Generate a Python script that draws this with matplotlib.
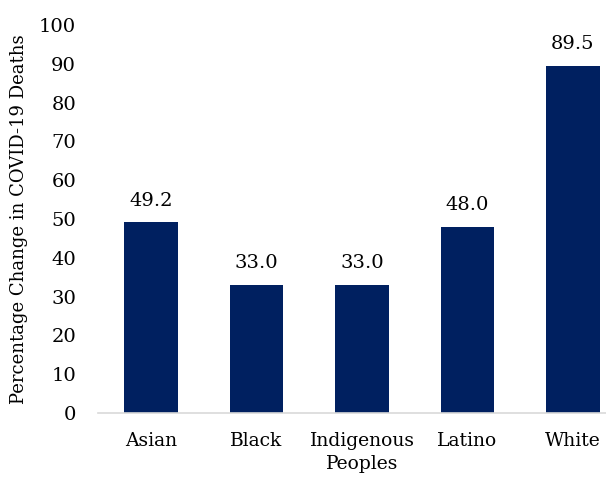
import matplotlib
matplotlib.use("Agg")
import matplotlib.pyplot as plt

categories = ["Asian", "Black", "Indigenous\nPeoples", "Latino", "White"]
values = [49.2, 33.0, 33.0, 48.0, 89.5]
yticks = [0, 10, 20, 30, 40, 50, 60, 70, 80, 90, 100]

plt.rcParams['font.family'] = ['DejaVu Serif']

fig = plt.figure(figsize=(6.06, 4.78), dpi=100)
ax = fig.add_axes([98.25/606, 65/478, 527.5/606, 388/478])
x = list(range(len(categories)))
bars = ax.bar(x, values, width=0.51, color="#002060")
for xi, v in zip(x, values):
    ax.annotate(f"{v:.1f}", (xi, v), xytext=(0, 9), textcoords="offset points",
                ha="center", va="bottom", fontsize=14, color="#000000")

ax.set_xlim(-0.5, 4.5)
ax.set_ylim(0, 100)
ax.set_yticks(yticks)
ax.set_yticklabels([str(t) for t in yticks], fontsize=14)
ax.set_xticks(x)
ax.set_xticklabels(categories, fontsize=13.5, linespacing=1.35)
ax.tick_params(axis="both", length=0)
ax.tick_params(axis="x", pad=14)
ax.tick_params(axis="y", pad=16)
for s in ["top", "right", "left"]:
    ax.spines[s].set_visible(False)
ax.spines["bottom"].set_color("#d9d9d9")
ax.spines["bottom"].set_linewidth(1.2)
ax.set_ylabel("Percentage Change in COVID-19 Deaths", fontsize=13, labelpad=8)

fig.savefig("out.png", dpi=100)
